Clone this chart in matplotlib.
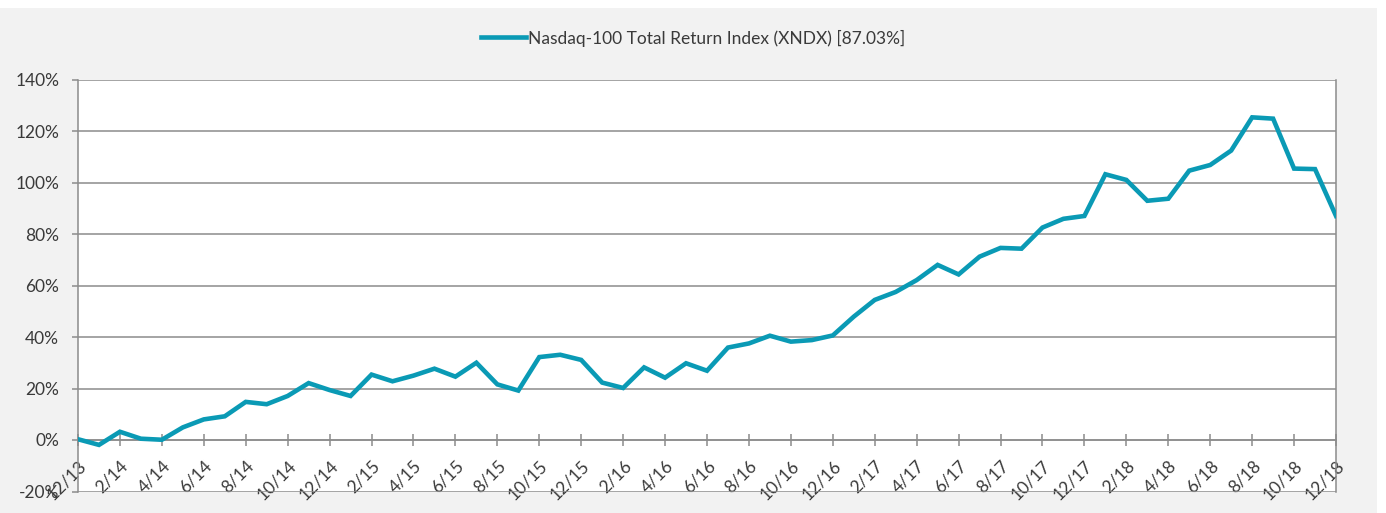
import matplotlib.pyplot as plt
from matplotlib.patches import Rectangle

# monthly total return of the index, 12/13 .. 12/18 (percent)
months = [f"{m}/{y}" for y in range(13, 19) for m in range(1, 13)][11:]
returns = [0.3, -1.9, 3.2, 0.5, 0.1, 4.9, 8.0, 9.2, 14.8, 13.9, 17.1, 22.1,
           19.4, 17.1, 25.4, 22.8, 25.0, 27.7, 24.6, 30.0, 21.6, 19.2, 32.2, 33.1,
           31.1, 22.3, 20.2, 28.2, 24.2, 29.8, 26.9, 35.9, 37.5, 40.5, 38.2, 38.8,
           40.6, 47.9, 54.4, 57.5, 62.1, 68.0, 64.3, 71.2, 74.6, 74.3, 82.5, 85.9,
           87.0, 103.2, 101.0, 92.9, 93.7, 104.6, 106.8, 112.4, 125.3, 124.8, 105.4, 105.2,
           87.03]
series_name = "Nasdaq-100 Total Return Index (XNDX) [87.03%]"
y_ticks = [-20, 0, 20, 40, 60, 80, 100, 120, 140]

line_color = "#0a9ab5"
grid_color = "#8c8c8c"
text_color = "#3a3a3a"

plt.rcParams['font.family'] = ['Lato', 'DejaVu Sans']

fig = plt.figure(figsize=(13.86, 5.13), dpi=100, facecolor='white')
fig.patches.append(Rectangle((0, 0), 1377 / 1386, 505 / 513, transform=fig.transFigure,
                             facecolor='#f2f2f2', edgecolor='none', zorder=-1))
ax = fig.add_axes([78 / 1386, 1 - 491.5 / 513, (1336 - 78) / 1386, (491.5 - 79.5) / 513])
ax.set_facecolor('white')

x = list(range(len(months)))
ax.plot(x, returns, color=line_color, lw=3.3, solid_joinstyle='miter', label=series_name, zorder=3)

ax.set_xlim(0, len(months) - 1)
ax.set_ylim(-20, 140)

ax.yaxis.grid(True, color=grid_color, lw=1.1)
ax.set_axisbelow(True)

ax.spines['bottom'].set_position(('data', 0))
ax.spines['top'].set_visible(False)
for s in ['bottom', 'left', 'right']:
    ax.spines[s].set_color(grid_color)
    ax.spines[s].set_linewidth(1.1)

ax.tick_params(axis='y', direction='out', length=4.5, width=1.1, color=grid_color,
               pad=9, labelsize=12.5, labelcolor=text_color)
ax.tick_params(axis='x', direction='inout', length=9, width=1.1, color=grid_color,
               pad=8, labelsize=12.5, labelcolor=text_color)

ax.set_yticks(y_ticks)
ax.set_yticklabels([f"{v}%" for v in y_ticks])
ax.set_xticks(x[::2])
ax.set_xticklabels(months[::2], rotation=45, ha='right', va='top', rotation_mode='anchor')

leg = fig.legend(loc='center', bbox_to_anchor=(0.5, 1 - 38 / 513), frameon=False,
                 handlelength=2.6, handletextpad=0.15, prop={'size': 12.5})
for t in leg.get_texts():
    t.set_color(text_color)

fig.savefig('out.png', dpi=100, facecolor=fig.get_facecolor())
